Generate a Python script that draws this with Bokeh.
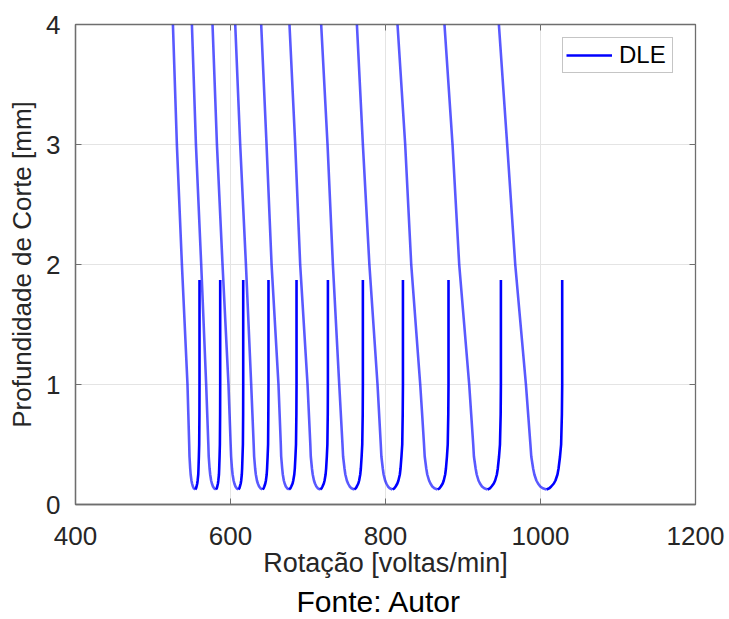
from bokeh.plotting import figure
from bokeh.models import (Range1d, LinearAxis, FixedTicker, Title, Legend, LegendItem,
                          CustomJSTickFormatter)
from bokeh.embed import file_html
from bokeh.resources import INLINE

# ---- data (rotation in rpm vs depth of cut in mm) ----
# left (descending) branch of every lobe, from the top of the chart down to the minimum
y_left = [4.0, 3.0, 2.0, 1.0, 0.75, 0.5, 0.4, 0.3, 0.25, 0.2, 0.175, 0.15, 0.135, 0.125]
# right (rising) branch of every lobe, from the minimum up to the lobe end
y_right = [0.125, 0.135, 0.15, 0.175, 0.2, 0.25, 0.3, 0.4, 0.5, 0.75, 1.0, 1.87]

lobe_left_rpm = [
    [525.7, 530.8, 537.3, 544.5, 545.6, 546.7, 547.1, 548.0, 548.6, 549.6, 550.4, 551.5, 552.7, 554.5],
    [550.2, 555.4, 562.2, 568.6, 570.0, 571.4, 571.9, 573.0, 573.8, 575.0, 576.0, 577.4, 578.9, 581.2],
    [576.8, 582.5, 589.7, 597.4, 598.8, 600.2, 600.8, 601.9, 602.7, 604.0, 605.0, 606.4, 608.0, 610.3],
    [606.1, 612.5, 619.9, 626.7, 628.3, 629.9, 630.5, 631.8, 632.7, 634.1, 635.3, 636.9, 638.7, 641.3],
    [639.6, 646.5, 653.0, 661.9, 663.4, 664.9, 665.4, 666.7, 667.5, 668.8, 669.9, 671.4, 673.1, 675.5],
    [676.1, 683.5, 689.9, 699.4, 701.2, 703.0, 703.6, 705.1, 706.1, 707.7, 709.0, 710.8, 712.8, 715.7],
    [717.0, 725.2, 732.1, 740.3, 742.4, 744.5, 745.3, 747.1, 748.2, 750.1, 751.7, 753.8, 756.1, 759.6],
    [763.1, 770.8, 779.2, 789.7, 791.8, 793.9, 794.7, 796.5, 797.6, 799.5, 801.1, 803.2, 805.5, 809.0],
    [815.5, 825.4, 833.2, 844.8, 847.3, 849.7, 850.6, 852.6, 853.9, 856.2, 858.0, 860.4, 863.1, 867.1],
    [876.1, 886.5, 895.1, 908.0, 910.6, 913.2, 914.1, 916.3, 917.7, 920.0, 921.9, 924.5, 927.4, 931.6],
    [946.3, 957.0, 967.4, 981.2, 984.1, 987.0, 988.1, 990.5, 992.1, 994.7, 996.8, 999.7, 1002.9, 1007.7],
]

lobe_right_rpm = [
    [554.5, 555.5, 556.2, 557.1, 557.6, 558.4, 558.7, 559.2, 559.6, 559.9, 560.0, 560.0],
    [581.2, 582.2, 582.9, 583.8, 584.3, 585.1, 585.4, 585.9, 586.3, 586.6, 586.7, 586.7],
    [610.3, 611.4, 612.1, 613.2, 613.8, 614.6, 615.0, 615.5, 616.0, 616.3, 616.4, 616.4],
    [641.3, 642.7, 643.6, 644.9, 645.7, 646.7, 647.2, 647.9, 648.5, 648.8, 649.0, 649.0],
    [675.5, 677.2, 678.4, 680.1, 681.0, 682.3, 683.0, 683.8, 684.5, 685.0, 685.2, 685.2],
    [715.7, 717.5, 718.7, 720.4, 721.4, 722.7, 723.4, 724.3, 725.0, 725.5, 725.7, 725.7],
    [759.6, 761.6, 763.0, 764.9, 766.0, 767.4, 768.2, 769.2, 770.0, 770.6, 770.8, 770.8],
    [809.0, 811.4, 813.1, 815.3, 816.7, 818.5, 819.4, 820.6, 821.6, 822.2, 822.5, 822.5],
    [867.1, 869.7, 871.4, 873.8, 875.2, 877.0, 878.0, 879.3, 880.3, 881.0, 881.3, 881.3],
    [931.6, 934.7, 936.8, 939.7, 941.5, 943.7, 944.9, 946.5, 947.7, 948.6, 948.9, 948.9],
    [1007.7, 1011.4, 1013.8, 1017.2, 1019.3, 1021.9, 1023.3, 1025.2, 1026.6, 1027.6, 1028.0, 1028.0],
]

x_ticks = [400, 600, 800, 1000, 1200]
y_ticks = [0, 1, 2, 3, 4]
series_name = "DLE"
source_note = "Fonte: Autor"

FONT = "Liberation Sans"
TXT = "#262626"
BOX = "#6e6e6e"

p = figure(width=729, height=619, output_backend="svg", toolbar_location=None,
           x_range=Range1d(400, 1200), y_range=Range1d(0, 4),
           min_border_left=75, min_border_right=34, min_border_top=24,
           min_border_bottom=115)
p.background_fill_color = "white"
p.border_fill_color = "white"
p.outline_line_color = BOX
p.outline_line_width = 1.3

p.xgrid.ticker = FixedTicker(ticks=x_ticks)
p.ygrid.ticker = FixedTicker(ticks=y_ticks)
p.grid.grid_line_color = "#e4e4e4"
p.grid.grid_line_width = 1

left_r = p.multi_line(xs=lobe_left_rpm, ys=[y_left] * len(lobe_left_rpm),
                      line_color="blue", line_alpha=0.65, line_width=2.6,
                      line_join="round")
right_r = p.multi_line(xs=lobe_right_rpm, ys=[y_right] * len(lobe_right_rpm),
                       line_color="blue", line_width=2.6, line_join="round")

for ax in (p.xaxis[0], p.yaxis[0]):
    ax.major_label_text_font = FONT
    ax.major_label_text_font_size = "26px"
    ax.major_label_text_color = TXT
    ax.axis_label_text_font = FONT
    ax.axis_label_text_font_style = "normal"
    ax.axis_label_text_color = TXT
    ax.axis_line_color = BOX
    ax.axis_line_width = 1.3
    ax.major_tick_line_color = BOX
    ax.major_tick_in = 6
    ax.major_tick_out = 0
    ax.minor_tick_line_color = None

p.xaxis.ticker = FixedTicker(ticks=x_ticks)
p.yaxis.ticker = FixedTicker(ticks=y_ticks)
p.xaxis.axis_label = "Rotação [voltas/min]"
p.yaxis.axis_label = "Profundidade de Corte [mm]"
p.xaxis.axis_label_text_font_size = "27px"
p.yaxis.axis_label_text_font_size = "26px"
p.xaxis.major_label_standoff = 22
p.xaxis.axis_label_standoff = 0
p.yaxis.major_label_standoff = 15
p.yaxis.axis_label_standoff = 6

blank = CustomJSTickFormatter(code="return ''")
top_ax = LinearAxis(ticker=FixedTicker(ticks=x_ticks), major_tick_in=6, major_tick_out=0,
                    formatter=blank, major_label_standoff=0,
                    axis_line_color=None, major_tick_line_color=BOX,
                    minor_tick_line_color=None)
right_ax = LinearAxis(ticker=FixedTicker(ticks=y_ticks), major_tick_in=6, major_tick_out=0,
                      formatter=blank, major_label_standoff=0,
                      axis_line_color=None, major_tick_line_color=BOX,
                      minor_tick_line_color=None)
p.add_layout(top_ax, "above")
p.add_layout(right_ax, "right")

legend = Legend(items=[LegendItem(label=series_name, renderers=[right_r])], margin=0)
legend.location = (487, 431)
legend.label_text_font = FONT
legend.label_text_font_size = "24px"
legend.label_text_color = "black"
legend.glyph_width = 46
legend.glyph_height = 20
legend.label_height = 20
legend.label_width = 50
legend.label_standoff = 7
legend.padding = 3
legend.spacing = 0
legend.border_line_color = "#8c8c8c"
legend.border_line_width = 1
legend.background_fill_color = "white"
legend.background_fill_alpha = 1
p.add_layout(legend, "center")

p.add_layout(Title(text=source_note, align="left", offset=221, text_font=FONT,
                   text_font_size="30px", text_font_style="normal",
                   text_color="black", standoff=4), "below")

open("out.html", "w").write(file_html(p, INLINE))
